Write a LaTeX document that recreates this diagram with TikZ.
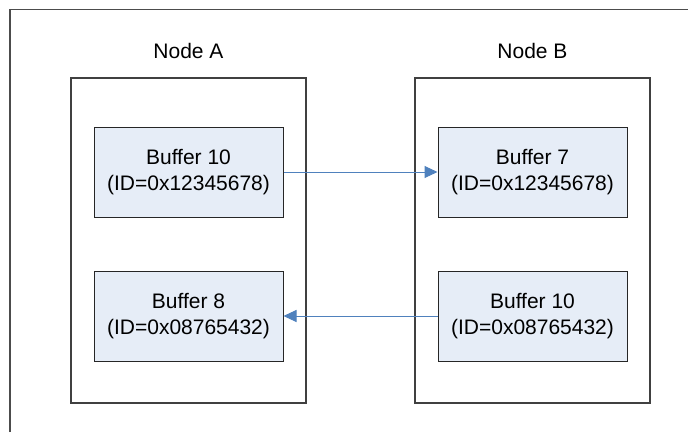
\documentclass[tikz,border=0pt]{standalone}
\usepackage{fontspec}
\setmainfont{Liberation Sans}
\usetikzlibrary{arrows.meta}
\definecolor{buffill}{RGB}{230,237,247}
\definecolor{linkblue}{RGB}{79,129,189}
\begin{document}
\begin{tikzpicture}[x=1pt,y=-1pt,
    font=\fontsize{21}{25.6}\selectfont,
    hostbox/.style={draw=black!75,line width=1.2pt,minimum width=235pt,minimum height=325pt},
    bufbox/.style={draw=black!85,line width=1pt,fill=buffill,align=center,
      minimum width=189pt,minimum height=90pt,inner sep=0pt},
    link/.style={draw=linkblue,line width=1pt,-{Triangle[length=13pt,width=12pt]}}]

        \useasboundingbox (0,0) rectangle (688,432);
        \draw[black!70,line width=1.3pt] (10,432) -- (10,9.5) -- (688,9.5);

        \begin{scope}[every node/.style={hostbox}]
          \node (a) at (188.5,240.5) {};
          \node (b) at (532.5,240.5) {};
        \end{scope}

        \node (la) at (188.5,51) {Node A};
        \node (lb) at (532.5,51) {Node B};

        \begin{scope}[every node/.style={bufbox}]
          \node (a1) at (188.5,172) {Buffer 10\\(ID=0x12345678)};
          \node (a2) at (188.5,316) {Buffer 8\\(ID=0x08765432)};
          \node (b1) at (532.5,172) {Buffer 7\\(ID=0x12345678)};
          \node (b2) at (532.5,316) {Buffer 10\\(ID=0x08765432)};
        \end{scope}

        \begin{scope}[every path/.style={link}]
          \path (a1) edge (b1);
          \path (b2) edge (a2);
        \end{scope}

      \end{tikzpicture}
\end{document}
